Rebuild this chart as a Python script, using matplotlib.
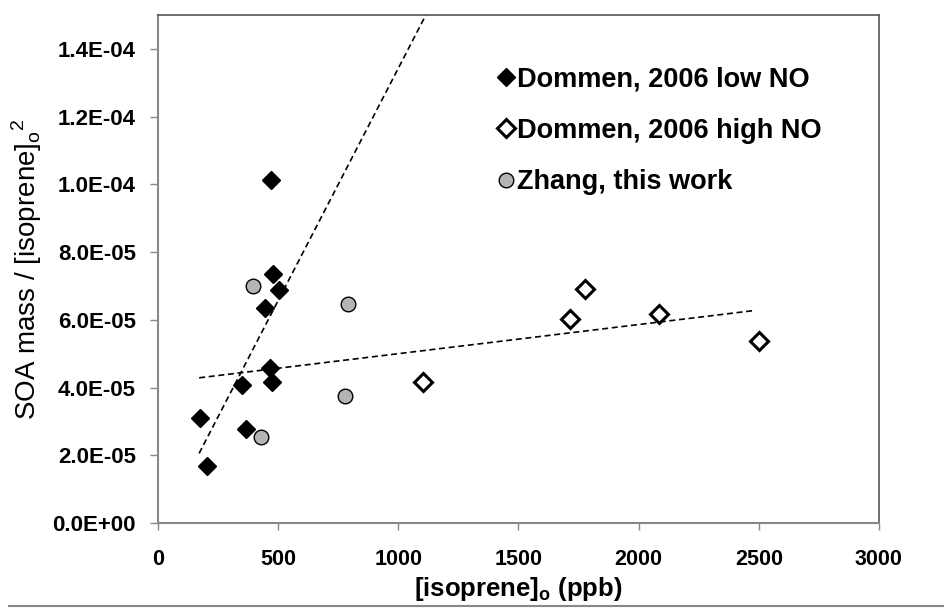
import matplotlib
matplotlib.use('Agg')
import matplotlib.pyplot as plt
from matplotlib.lines import Line2D

plt.rcParams['font.family'] = ['Liberation Sans', 'DejaVu Sans']
plt.rcParams['mathtext.fontset'] = 'custom'
plt.rcParams['mathtext.rm'] = 'Liberation Sans'
plt.rcParams['mathtext.bf'] = 'Liberation Sans:bold'

# Dommen 2006, low NO
low_x = [469, 477, 505, 445, 466, 473, 348, 175, 365, 202]
low_y = [1.012e-4, 7.35e-5, 6.88e-5, 6.34e-5, 4.57e-5, 4.17e-5, 4.07e-5, 3.09e-5, 2.77e-5, 1.69e-5]

# Dommen 2006, high NO
high_x = [1104, 1714, 1776, 2083, 2499]
high_y = [4.17e-5, 6.02e-5, 6.90e-5, 6.17e-5, 5.38e-5]

# Zhang, this work
zh_x = [396, 792, 778, 427]
zh_y = [7.01e-5, 6.46e-5, 3.76e-5, 2.55e-5]

# linear trend lines (slope, intercept, x range)
low_fit = (1.372e-7, -2.9e-6)
low_fit_x = [171, 1200]
all_fit = (8.6e-9, 4.14e-5)
all_fit_x = [171, 2483]

xticks = [0, 500, 1000, 1500, 2000, 2500, 3000]
yticks = [0, 2e-5, 4e-5, 6e-5, 8e-5, 1e-4, 1.2e-4, 1.4e-4]

fig = plt.figure(figsize=(9.44, 6.08), dpi=100)
ax = fig.add_axes([0.1674, 0.1398, 0.7637, 0.8355])

dash = (0, (3.6, 2.2))
ax.plot(low_fit_x, [low_fit[0] * x + low_fit[1] for x in low_fit_x],
        color='black', lw=1.2, linestyle=dash, zorder=1)
ax.plot(all_fit_x, [all_fit[0] * x + all_fit[1] for x in all_fit_x],
        color='black', lw=1.2, linestyle=dash, zorder=1)

ax.plot(low_x, low_y, 'D', ms=9, color='black', mec='black', mew=1,
        label='Dommen, 2006 low NO', zorder=3)
ax.plot(high_x, high_y, 'D', ms=8.8, mfc='white', mec='black', mew=2.2,
        label='Dommen, 2006 high NO', zorder=3)
ax.plot(zh_x, zh_y, 'o', ms=10.5, mfc='#b4b4b4', mec='black', mew=1,
        label='Zhang, this work', zorder=3)

ax.set_xlim(0, 3000)
ax.set_ylim(0, 1.5e-4)
ax.set_xticks(xticks)
ax.set_xticklabels([str(t) for t in xticks])
ax.set_yticks(yticks)
ax.set_yticklabels(['%.1E' % t for t in yticks])

for lab in ax.get_xticklabels() + ax.get_yticklabels():
    lab.set_fontweight('bold')
ax.tick_params(axis='x', direction='out', length=5, width=1, color='#888888',
               labelsize=15.5, pad=14)
ax.tick_params(axis='y', direction='out', length=6, width=1, color='#888888',
               labelsize=16, pad=10)

for s in ['left', 'bottom']:
    ax.spines[s].set_color('#888888')
    ax.spines[s].set_linewidth(1.5)
for s in ['top', 'right']:
    ax.spines[s].set_color('#555555')
    ax.spines[s].set_linewidth(1.2)

ax.set_xlabel(r'[isoprene]$_\mathbf{o}$ (ppb)', fontsize=18.5, fontweight='bold',
              labelpad=3)
ax.set_ylabel(r'SOA mass / [isoprene]$_\mathrm{o}{}^\mathrm{2}$', fontsize=20,
              labelpad=6)

leg = ax.legend(loc='upper left', bbox_to_anchor=(0.456, 0.92), frameon=False,
                prop={'weight': 'bold', 'size': 19.5}, handlelength=0.6,
                handletextpad=0.1, labelspacing=0.94, borderaxespad=0)

fig.add_artist(Line2D([0.01, 1.0], [0.004, 0.004], color='#888888', lw=1.5))

fig.savefig('out.png', dpi=100)
